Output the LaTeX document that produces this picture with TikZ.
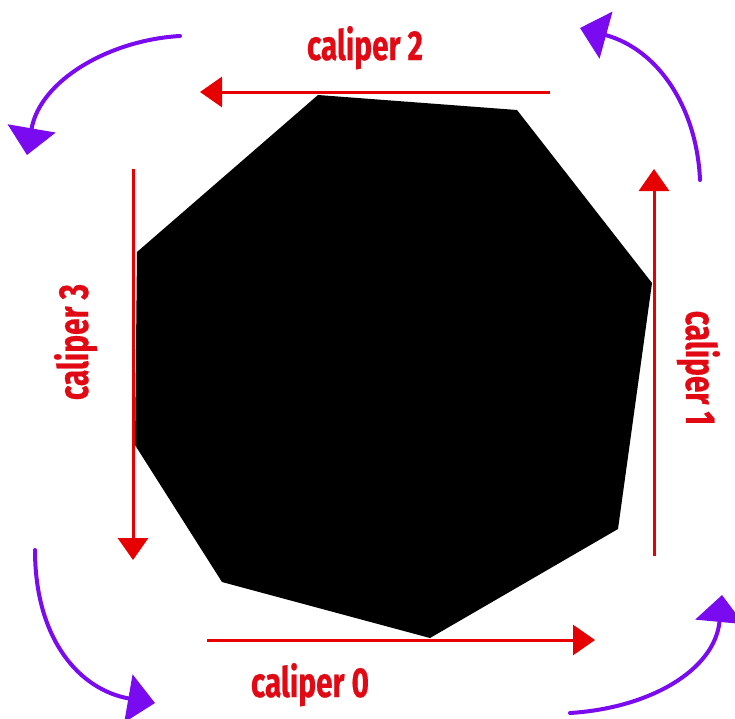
\documentclass[tikz,border=0pt]{standalone}
\usepackage{fontspec}
\newfontfamily\calfont{Fira Sans}[BoldFeatures={FakeBold=0.6}]
\usetikzlibrary{arrows.meta}
\definecolor{calred}{RGB}{230,0,0}
\definecolor{txtred}{RGB}{225,10,20}
\definecolor{rotviolet}{RGB}{122,10,240}
\newcommand\caltext[1]{\scalebox{0.71}[1]{#1}}
\tikzset{
  caliperline/.style={draw=calred, line width=3pt, -{Triangle[length=22pt,width=30pt]}},
  rotarrow/.style={draw=rotviolet, line width=4pt, line cap=round, -{Triangle[length=27pt,width=48pt]}},
  callabel/.style={text=txtred, font=\calfont\bfseries\fontsize{42}{46}\selectfont, inner sep=0pt, anchor=base},
}
\begin{document}
\begin{tikzpicture}[x=1pt,y=-1pt]
\useasboundingbox[fill=white] (0,0) rectangle (735,718);
% polygon
\coordinate (p1) at (318,95);
\coordinate (p2) at (517,110);
\coordinate (p3) at (652,283);
\coordinate (p4) at (618,529);
\coordinate (p5) at (430,638);
\coordinate (p6) at (222,582);
\coordinate (p7) at (135,445);
\coordinate (p8) at (137,252);
\fill[black] (p1) -- (p2) -- (p3) -- (p4) -- (p5) -- (p6) -- (p7) -- (p8) -- cycle;
% calipers
\coordinate (c2s) at (550,92);  \coordinate (c2e) at (200,92);
\coordinate (c3s) at (133,169); \coordinate (c3e) at (133,560);
\coordinate (c0s) at (207,640); \coordinate (c0e) at (595,640);
\coordinate (c1s) at (654,556); \coordinate (c1e) at (654,169);
\draw[caliperline] (c2s) -- (c2e);
\draw[caliperline] (c3s) -- (c3e);
\draw[caliperline] (c0s) -- (c0e);
\draw[caliperline] (c1s) -- (c1e);
% labels
\node[callabel] (l2) at (365,60) {\caltext{caliper 2}};
\node[callabel] (l0) at (310,697) {\caltext{caliper 0}};
\node[callabel, rotate=90] (l3) at (88,342) {\caltext{caliper 3}};
\node[callabel, rotate=-90] (l1) at (686,368) {\caltext{caliper 1}};
% rotation arrows
\coordinate (a1s) at (180,36);  \coordinate (a1e) at (27,155);
\coordinate (a2s) at (700,180); \coordinate (a2e) at (580,28);
\coordinate (a3s) at (35,550);  \coordinate (a3e) at (155,703);
\coordinate (a4s) at (570,713); \coordinate (a4e) at (722,595);
\draw[rotarrow] (a1s) .. controls (110,40) and (40,80) .. (a1e);
\draw[rotarrow] (a2s) .. controls (697,110) and (660,50) .. (a2e);
\draw[rotarrow] (a3s) .. controls (35,640) and (80,690) .. (a3e);
\draw[rotarrow] (a4s) .. controls (650,708) and (715,670) .. (a4e);
\end{tikzpicture}
\end{document}
